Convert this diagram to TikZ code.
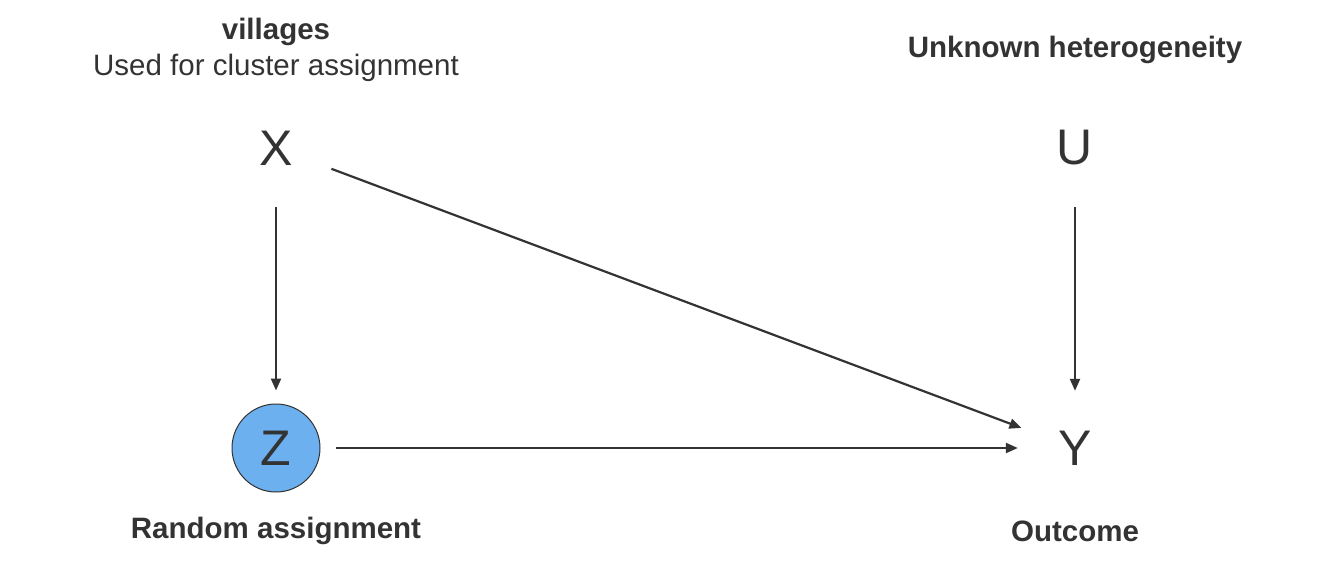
\documentclass[tikz,border=0pt]{standalone}
\usepackage{fontspec}
\setmainfont{Liberation Sans}
\usetikzlibrary{arrows.meta}
\definecolor{ink}{HTML}{333333}
\definecolor{zfill}{HTML}{6CB0F0}
\tikzset{
  var/.style={circle, minimum size=88pt, inner sep=0pt, text=ink, font=\fontsize{50}{58}\selectfont},
  lab/.style={text=ink, font=\fontsize{29.5}{34}\selectfont\bfseries, inner sep=0pt, align=center},
  sublab/.style={text=ink, font=\fontsize{29.5}{34}\selectfont, inner sep=0pt},
  edge/.style={draw=ink, line width=2.2pt, -{Triangle[length=12pt,width=10pt]}, shorten <=15pt, shorten >=13pt}
}
\begin{document}
\begin{tikzpicture}[x=1pt,y=-1pt]
\useasboundingbox (0,0) rectangle (1344,576);
\node[var] (X) at (276,148) {X};
\node[var] (U) at (1075,148) {U};
\node[var, fill=zfill, draw=ink, line width=1pt] (Z) at (276,448) {Z};
\node[var] (Y) at (1075,448) {Y};
\node[lab] (lv) at (276,32) {villages};
\node[sublab] (lc) at (276,68) {Used for cluster assignment};
\node[lab] (lu) at (1075,50) {Unknown heterogeneity};
\node[lab] (lz) at (276,531) {Random assignment};
\node[lab] (ly) at (1075,531) {Outcome};
\draw[edge] (X) -- (Z);
\draw[edge] (U) -- (Y);
\draw[edge] (Z) -- (Y);
\draw[edge] (X) -- (Y);
\end{tikzpicture}
\end{document}
